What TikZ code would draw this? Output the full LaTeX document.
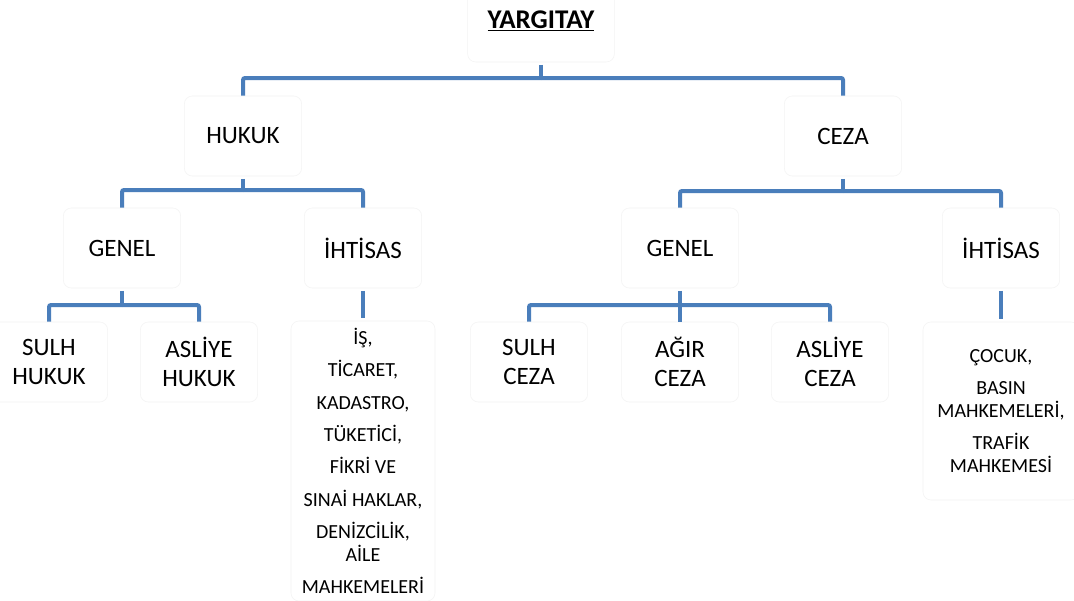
\documentclass[tikz,border=0pt]{standalone}
\usepackage{fontspec}
\setmainfont{Carlito}
\usepackage{xcolor}
\usetikzlibrary{positioning}
\definecolor{linkblue}{HTML}{4A7EBB}
\definecolor{boxline}{HTML}{F3F3F3}

\begin{document}
\begin{tikzpicture}[
  x=0.75pt, y=-0.75pt,
  unit/.style={draw=boxline, rounded corners=6pt, align=center, inner sep=0pt, minimum width=88pt, minimum height=60pt, font=\fontsize{18.75}{21.75}\selectfont},
  list/.style={unit, font=\fontsize{15}{17.25}\selectfont},
  link/.style={draw=linkblue, line width=3pt, rounded corners=1.5pt},
  stem/.style={link, shorten <=2pt}
]
\path[use as bounding box, fill=white] (0,0) rectangle (1074,600);

\node[unit, minimum width=110pt, minimum height=61.5pt, font=\bfseries\fontsize{20.25}{24}\selectfont] (yargitay) at (541,21) {\underline{YARGITAY}};

\node[unit] (hukuk) at (243,136) {HUKUK};
\node[unit] (ceza) at (843,136) {CEZA};

\node[unit] (hgenel) at (122,248) {GENEL};
\node[unit] (hihtisas) at (363,248) {İHTİSAS};
\node[unit] (cgenel) at (680,248) {GENEL};
\node[unit] (cihtisas) at (1001,248) {İHTİSAS};

\node[unit] (shukuk) at (49,362) {SULH\\HUKUK};
\node[unit] (ahukuk) at (199,362) {ASLİYE\\HUKUK};
\node[list, minimum width=108pt, minimum height=210pt] (hliste) at (363,461) {İŞ,\\[7pt]TİCARET,\\[7pt]KADASTRO,\\[7pt]TÜKETİCİ,\\[7pt]FİKRİ VE\\[7pt]SINAİ HAKLAR,\\[7pt]DENİZCİLİK,\\AİLE\\[7pt]MAHKEMELERİ};
\node[unit] (sceza) at (529,362) {SULH\\CEZA};
\node[unit] (aceza) at (680,362) {AĞIR\\CEZA};
\node[unit] (asceza) at (830,362) {ASLİYE\\CEZA};
\node[list, minimum width=117pt, minimum height=133.5pt] (cliste) at (1001,411) {ÇOCUK,\\[7pt]BASIN\\MAHKEMELERİ,\\[7pt]TRAFİK\\MAHKEMESİ};

% joints
\coordinate (j0) at (541,78);
\coordinate (jh) at (243,190);
\coordinate (jc) at (843,191);
\coordinate (jhg) at (122,305);
\coordinate (jcg) at (680,305);

\draw[stem] (yargitay.south) -- (j0);
\draw[link] (j0) -| (hukuk.north);
\draw[link] (j0) -| (ceza.north);

\draw[stem] (hukuk.south) -- (jh);
\draw[link] (jh) -| (hgenel.north);
\draw[link] (jh) -| (hihtisas.north);
\draw[stem] (ceza.south) -- (jc);
\draw[link] (jc) -| (cgenel.north);
\draw[link] (jc) -| (cihtisas.north);

\draw[stem] (hgenel.south) -- (jhg);
\draw[link] (jhg) -| (shukuk.north);
\draw[link] (jhg) -| (ahukuk.north);
\draw[stem, shorten >=2pt] (hihtisas.south) -- (hliste.north);

\draw[stem] (cgenel.south) -- (jcg);
\draw[link] (jcg) -| (sceza.north);
\draw[link] (jcg) -- (aceza.north);
\draw[link] (jcg) -| (asceza.north);
\draw[stem, shorten >=2pt] (cihtisas.south) -- (cliste.north);

\end{tikzpicture}
\end{document}
